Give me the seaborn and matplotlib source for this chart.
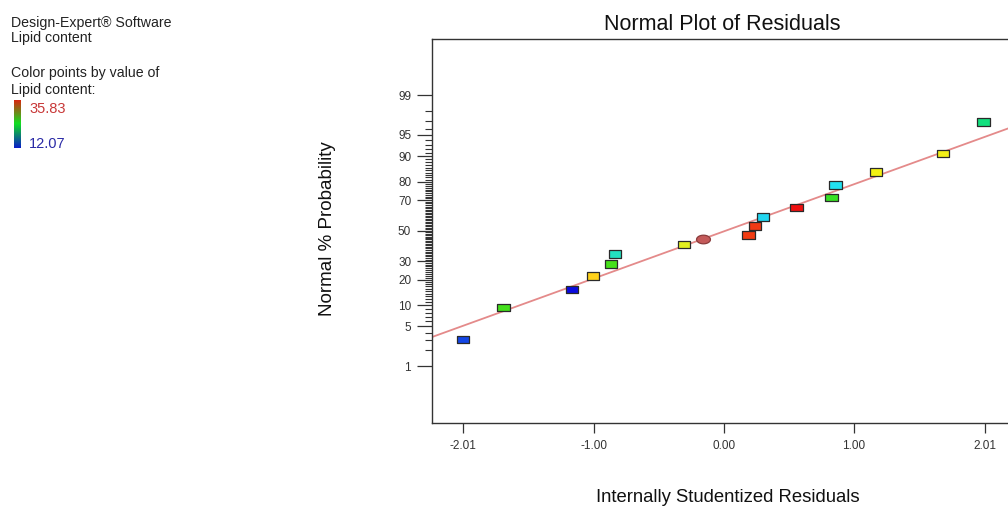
import numpy as np
import pandas as pd
import matplotlib
matplotlib.use("Agg")
import matplotlib.pyplot as plt
import seaborn as sns
from matplotlib.path import Path
from matplotlib.colors import LinearSegmentedColormap
from statistics import NormalDist

# Internally studentized residuals and their normal % probability (run order by rank)
residuals = [-2.01, -1.70, -1.17, -1.01, -0.87, -0.84, -0.31, 0.19, 0.24,
             0.30, 0.56, 0.83, 0.86, 1.17, 1.69, 2.00]
probability = [3.1, 9.4, 15.7, 21.8, 28.3, 34.3, 40.6, 46.9, 53.1,
               59.2, 65.6, 71.7, 78.4, 84.3, 90.7, 96.9]
point_colors = ["#1446e6", "#44e01c", "#0a0ae0", "#ffd21a", "#46e01a", "#22e2c0",
                "#e2f020", "#f23c12", "#f23a14", "#22d6f0", "#f01010", "#38e024",
                "#22e2f2", "#f4f214", "#f2f018", "#12e07e"]

# Highlighted run drawn as an ellipse
ellipse_residual = [-0.16]
ellipse_probability = [44.4]

# Reference line of the normal plot
line_residual = [-2.25, 2.22]
line_probability = [3.39, 96.24]

x_ticks = [-2.01, -1.00, 0.00, 1.00, 2.01]
x_tick_labels = ["-2.01", "-1.00", "0.00", "1.00", "2.01"]
y_ticks = [1, 5, 10, 20, 30, 50, 70, 80, 90, 95, 99]
y_minor_ticks = [p for p in range(2, 99) if p not in y_ticks]

color_range = ["35.83", "12.07"]

sns.set_theme(style="white")
plt.rcParams["font.family"] = ["Liberation Sans", "DejaVu Sans"]

W, H = 1008, 508
fig = plt.figure(figsize=(W / 100, H / 100), dpi=100)
fig.patch.set_facecolor("white")

ax = fig.add_axes([432 / W, 85 / H, 580 / W, 384 / H])

# Normal probability scale on the y axis
nd = NormalDist()
_fwd = np.vectorize(lambda v: nd.inv_cdf(min(max(v, 1e-9), 100 - 1e-9) / 100.0), otypes=[float])
_inv = np.vectorize(lambda v: nd.cdf(v) * 100.0, otypes=[float])


def prob_forward(p):
    return _fwd(np.asarray(p, dtype=float))


def prob_inverse(z):
    return _inv(np.asarray(z, dtype=float))


ax.set_yscale("function", functions=(prob_forward, prob_inverse))

# Fitted reference line
sns.lineplot(x=line_residual, y=line_probability, ax=ax, color="#e48a8a",
             linewidth=1.3, sort=False, zorder=1)

# Rectangle markers
rect_marker = Path([(-1, -0.6), (1, -0.6), (1, 0.6), (-1, 0.6), (-1, -0.6)],
                   [Path.MOVETO, Path.LINETO, Path.LINETO, Path.LINETO, Path.CLOSEPOLY])
df = pd.DataFrame({"residual": residuals, "probability": probability,
                   "run": [str(i) for i in range(len(residuals))]})
sns.scatterplot(data=df, x="residual", y="probability", hue="run",
                palette=dict(zip(df["run"], point_colors)), marker=rect_marker,
                s=80, edgecolor="#2a2a2a", linewidth=0.9, legend=False, ax=ax, zorder=3)

t = np.linspace(0, 2 * np.pi, 60)
ellipse_marker = Path(np.column_stack([np.cos(t), 0.62 * np.sin(t)]))
sns.scatterplot(x=ellipse_residual, y=ellipse_probability, marker=ellipse_marker,
                s=100, color="#c45a5a", edgecolor="#8a3c3c", linewidth=0.9,
                legend=False, ax=ax, zorder=3)

ax.set_xlim(-2.25, 2.22)
ax.set_ylim(0.048, 99.95)
ax.set_xticks(x_ticks)
ax.set_xticklabels(x_tick_labels)
ax.set_yticks(y_ticks)
ax.set_yticklabels([str(v) for v in y_ticks])
ax.set_yticks(y_minor_ticks, minor=True)
ax.set_xlabel("")
ax.set_ylabel("")

ax.tick_params(axis="x", which="major", direction="out", length=7, width=0.9,
               color="#333333", labelsize=8.5, labelcolor="#333333", pad=5, bottom=True)
ax.tick_params(axis="y", which="major", direction="out", length=11, width=0.9,
               color="#333333", labelsize=8.5, labelcolor="#333333", pad=4, left=True)
ax.tick_params(axis="y", which="minor", direction="out", length=5, width=0.8,
               color="#333333", left=True)
for sp in ax.spines.values():
    sp.set_color("#333333")
    sp.set_linewidth(1.0)

# Titles
fig.text(722 / W, 1 - 25 / H, "Normal Plot of Residuals", ha="center", va="center",
         fontsize=15.5, color="#111111")
fig.text(728 / W, 1 - 497 / H, "Internally Studentized Residuals", ha="center",
         va="center", fontsize=13.3, color="#111111")
fig.text(327 / W, 1 - 229 / H, "Normal % Probability", ha="center", va="center",
         rotation=90, fontsize=13.5, color="#111111")

# Side information block
info_kw = dict(fontsize=10.2, color="#222222", va="baseline", ha="left")
fig.text(11 / W, 1 - 26.7 / H, "Design-Expert® Software", **info_kw)
fig.text(11 / W, 1 - 41.7 / H, "Lipid content", **info_kw)
fig.text(11 / W, 1 - 77 / H, "Color points by value of", **info_kw)
fig.text(11 / W, 1 - 94 / H, "Lipid content:", **info_kw)

cax = fig.add_axes([14 / W, 1 - 148.3 / H, 6.5 / W, 48.3 / H])
cmap = LinearSegmentedColormap.from_list("lipid", ["#0a1ec8", "#10e020", "#e02010"])
cax.imshow(np.linspace(1, 0, 100).reshape(-1, 1), aspect="auto", cmap=cmap)
cax.set_axis_off()
fig.text(29 / W, 1 - 112.7 / H, color_range[0], fontsize=10.5, color="#c83838",
         va="baseline", ha="left")
fig.text(29 / W, 1 - 148.3 / H, color_range[1], fontsize=10.5, color="#2a2aa6",
         va="baseline", ha="left")

fig.savefig("out.png", dpi=100, facecolor="white")
